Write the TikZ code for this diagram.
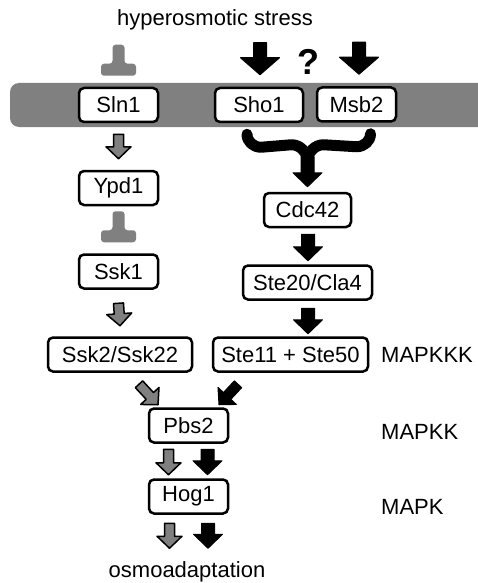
\documentclass[tikz,border=0pt]{standalone}
\usepackage{fontspec}
\setmainfont{Liberation Sans}
\usetikzlibrary{calc,positioning}

\definecolor{membgray}{RGB}{128,128,128}

\tikzset{
  prot/.style={draw, line width=2.5pt, rounded corners=5pt, fill=white,
    minimum height=34pt, minimum width=79pt, inner sep=0pt,
    font=\fontsize{22}{26}\selectfont},
  lbl/.style={inner sep=0pt, font=\fontsize{22}{26}\selectfont},
  blk arrow/.style={fill=black, draw=black, line width=1pt, line join=round},
  gry arrow/.style={fill=membgray, draw=black, line width=1.5pt, line join=round},
  arrw big/.code={\def\shw{6.5pt}\def\hdw{19.5pt}\def\hdl{17pt}},
  arrw mid/.code={\def\shw{6.5pt}\def\hdw{14.5pt}\def\hdl{14pt}},
  arrw small/.code={\def\shw{5pt}\def\hdw{12.5pt}\def\hdl{12pt}},
  fork line/.style={draw, line width=11pt, line cap=round, line join=round},
}

% block arrow from #2 (tail) to #3 (tip)
\newcommand{\fatarrow}[3]{%
  \begin{scope}[#1]
    \coordinate (fa-s) at (#2);
    \coordinate (fa-t) at (#3);
    \coordinate (fa-h) at ($(fa-t)!\hdl!(fa-s)$);
    \filldraw ($(fa-s)!\shw!90:(fa-t)$) -- ($(fa-h)!\shw!90:(fa-t)$)
      -- ($(fa-h)!\hdw!90:(fa-t)$) -- (fa-t) -- ($(fa-h)!\hdw!-90:(fa-t)$)
      -- ($(fa-h)!\shw!-90:(fa-t)$) -- ($(fa-s)!\shw!-90:(fa-t)$) -- cycle;
  \end{scope}}

% gray T-bar above a node
\newcommand{\inhibit}[1]{%
  \fill[membgray, rounded corners=3pt] ($(#1.north)+(-17.5,-11)$) -- ++(35,0)
    -- ++(0,-12) -- ++(-11.5,0) -- ++(0,-19) -- ++(-12,0) -- ++(0,19)
    -- ++(-11.5,0) -- cycle;}

\begin{document}
\begin{tikzpicture}[x=1pt, y=-1pt]
\useasboundingbox (0,0) rectangle (477,583);

% membrane
\fill[membgray, rounded corners=9pt] (10,83) rectangle (490,127);

\node [lbl] (stress) at (215,20) {hyperosmotic stress};
\node [font=\bfseries\fontsize{36}{38}\selectfont, inner sep=0pt] (unknown) at (308,62) {?};

% sensors
\node [prot] (sln1) at (118.5,105) {Sln1};
\node [prot, minimum width=88pt] (sho1) at (259,105) {Sho1};
\node [prot] (msb2) at (356.5,104.5) {Msb2};

% Sln1 branch
\node [prot] (ypd1) at (118.5,188) {Ypd1};
\node [prot] (ssk1) at (118.5,271.5) {Ssk1};
\node [prot, minimum width=144pt] (ssk2) at (120,354.5) {Ssk2/Ssk22};

% Sho1 branch
\node [prot, minimum width=87pt] (cdc42) at (307.5,210) {Cdc42};
\node [prot, minimum width=129pt] (ste20) at (307.5,282.5) {Ste20/Cla4};
\node [prot, minimum width=155pt] (ste11) at (290.5,354.5) {Ste11 + Ste50};

% MAPK module
\node [prot] (pbs2) at (188.5,425.5) {Pbs2};
\node [prot] (hog1) at (188.5,496.5) {Hog1};

\node [lbl, anchor=west] (mapkkk) at (381,354.5) {MAPKKK};
\node [lbl, anchor=west] (mapkk) at (381,432) {MAPKK};
\node [lbl, anchor=west] (mapk) at (381,507) {MAPK};

\node [lbl] (osmo) at (187,572) {osmoadaptation};

% inputs
\inhibit{sln1}
\fatarrow{blk arrow, arrw big}{$(sho1.north)+(1,-44)$}{$(sho1.north)+(1,-12)$}
\fatarrow{blk arrow, arrw big}{$(msb2.north)+(2.5,-44)$}{$(msb2.north)+(2.5,-12)$}

% Sln1 branch
\fatarrow{gry arrow, arrw small}{$(sln1.south)+(0,11)$}{$(ypd1.north)+(0,-11)$}
\inhibit{ssk1}
\fatarrow{gry arrow, arrw small}{$(ssk1.south)+(0,13.5)$}{$(ssk2.north)+(0,-10.5)$}

% Sho1 branch
\coordinate (fork) at ($(cdc42.north)+(0,-30)$);
\draw [fork line] ($(sho1.south)+(-12,11)$) to[out=-90,in=180] ++(14,13)
  -- ($(fork)+(-16,-17)$) to[out=0,in=90] (fork);
\draw [fork line] ($(msb2.south)+(14,11)$) to[out=-90,in=0] ++(-14,13)
  -- ($(fork)+(16,-17)$) to[out=180,in=90] (fork);
\fatarrow{blk arrow, arrw mid}{$(fork)+(0,-5)$}{$(cdc42.north)+(0,-5)$}
\fatarrow{blk arrow, arrw mid}{$(cdc42.south)+(0.5,6)$}{$(ste20.north)+(0.5,-3.5)$}
\fatarrow{blk arrow, arrw mid}{$(ste20.south)+(0.5,7.5)$}{$(ste20.south |- ste11.north)+(0.5,-2.5)$}

% into Pbs2
\fatarrow{gry arrow, arrw small}{$(ssk2.south)+(19,11.5)$}{$(pbs2.north)+(-30.5,-2.5)$}
\fatarrow{blk arrow, arrw small}{$(ste11.south)+(-52.5,11.5)$}{$(pbs2.north)+(30.5,-2.5)$}

% Pbs2 -> Hog1 -> output
\fatarrow{gry arrow, arrw small}{$(pbs2.south)+(-20,5.5)$}{$(hog1.north)+(-20,-3.5)$}
\fatarrow{blk arrow, arrw mid}{$(pbs2.south)+(19,5.5)$}{$(hog1.north)+(19,-3.5)$}
\fatarrow{gry arrow, arrw small}{$(hog1.south)+(-19,8.5)$}{$(hog1.south)+(-19,33.5)$}
\fatarrow{blk arrow, arrw mid}{$(hog1.south)+(19.5,8.5)$}{$(hog1.south)+(19.5,33.5)$}
\end{tikzpicture}
\end{document}
